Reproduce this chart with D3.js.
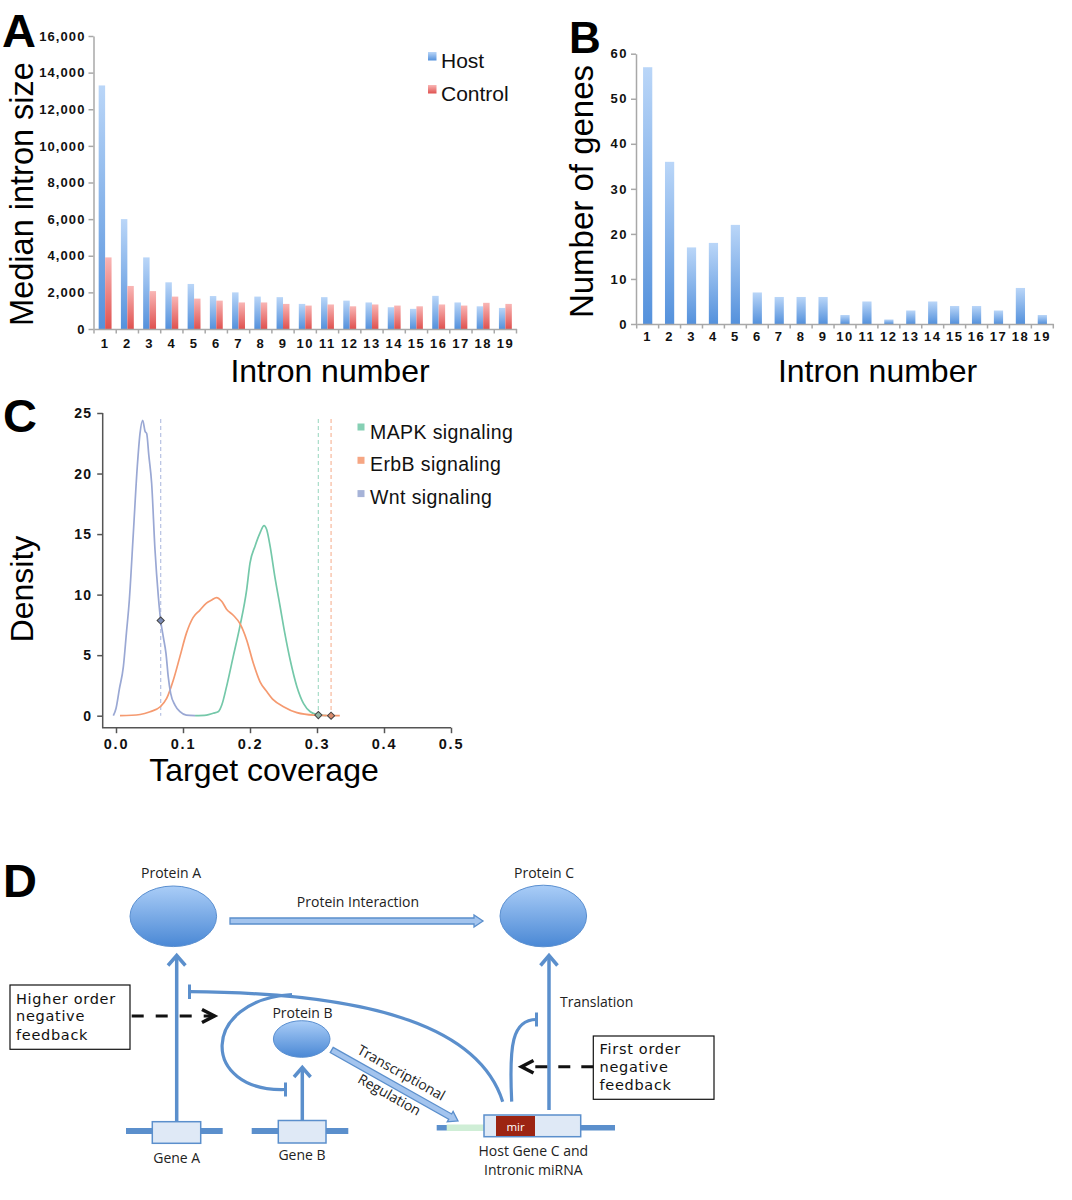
<!DOCTYPE html>
<html><head><meta charset="utf-8">
<script src="https://cdn.jsdelivr.net/npm/d3@7"></script>
<style>body{margin:0;background:#fff;} svg{display:block;}</style>
</head><body>
<svg id="fig" width="1072" height="1200"></svg>
<script>
// ================= DATA =================
// Panel A
const introns = [1,2,3,4,5,6,7,8,9,10,11,12,13,14,15,16,17,18,19];
const hostMedianSize    = [13300,6000,3910,2550,2460,1800,2000,1770,1740,1370,1740,1550,1450,1190,1100,1810,1450,1240,1150];
const controlMedianSize = [3910,2350,2070,1770,1660,1550,1450,1450,1370,1280,1340,1240,1340,1280,1240,1340,1280,1430,1370];
const yTicksA = [0,2000,4000,6000,8000,10000,12000,14000,16000];
const seriesA = ["Host","Control"];
// Panel B
const geneCounts = [57,36,17,18,22,7,6,6,6,2,5,1,3,5,4,4,3,8,2];
const yTicksB = [0,10,20,30,40,50,60];
// Panel C (density curves: [coverage, density])
const pathways = ["MAPK signaling","ErbB signaling","Wnt signaling"];
const mapkDensity = [[0.118,0],[0.135,0.05],[0.145,0.2],[0.153,0.35],[0.158,0.9],[0.165,2.4],[0.175,4.9],[0.185,7.4],[0.195,10.4],[0.2,12.6],[0.2075,14],[0.215,15.1],[0.221,15.7],[0.225,15.35],[0.23,14],[0.237,11.5],[0.245,9],[0.252,6.8],[0.26,4.6],[0.27,2.4],[0.28,1.0],[0.29,0.33],[0.302,0.08],[0.314,0]];
const erbbDensity = [[0.006,0],[0.036,0.1],[0.051,0.33],[0.066,0.74],[0.0756,1.43],[0.0856,2.95],[0.0955,4.9],[0.105,6.8],[0.115,8.1],[0.125,8.7],[0.135,9.3],[0.143,9.56],[0.15,9.76],[0.158,9.43],[0.165,8.8],[0.175,8.3],[0.185,7.6],[0.195,6.26],[0.205,4.33],[0.215,2.8],[0.225,2.0],[0.235,1.3],[0.25,0.74],[0.27,0.25],[0.295,0.05],[0.334,0]];
const wntDensity = [[-0.004,0],[0.0,0.6],[0.005,2.2],[0.011,4.05],[0.0155,6.8],[0.0199,9.56],[0.0259,15.1],[0.0318,20.6],[0.0358,23.3],[0.0398,24.4],[0.0433,23.5],[0.0458,23.3],[0.049,21.5],[0.0532,19.2],[0.0582,13.7],[0.0632,9.84],[0.0667,7.86],[0.0706,6.5],[0.0746,5.15],[0.078,3.2],[0.0816,1.85],[0.088,0.88],[0.0955,0.33],[0.105,0.05],[0.118,0]];
const observedCoverage = [0.302, 0.321, 0.0667];
const observedDensity  = [0.05, 0, 7.86];
const xTicksC = [0,0.1,0.2,0.3,0.4,0.5];
const yTicksC = [0,5,10,15,20,25];

// ================= SETUP =================
const svg = d3.select("#fig");
const FONT = "'Liberation Sans', Arial, Helvetica, sans-serif";
const DFONT = "'Open Sans', 'Noto Sans', sans-serif";
const BFONT = "'DejaVu Sans', Verdana, sans-serif";
const defs = svg.append("defs");
function vgrad(id, top, bottom){
  const g = defs.append("linearGradient").attr("id",id).attr("x1",0).attr("y1",0).attr("x2",0).attr("y2",1);
  g.append("stop").attr("offset","0%").attr("stop-color",top);
  g.append("stop").attr("offset","100%").attr("stop-color",bottom);
}
vgrad("gHost","#bad6f8","#5491dc");
vgrad("gCtrl","#f9b6b5","#df514f");
vgrad("gGenes","#bad6f8","#5491dc");
vgrad("gProt","#aacdf7","#4a88d5");

function styleAxis(g, size, color, ls){
  g.select(".domain").attr("stroke", color).attr("stroke-width",1.5);
  g.selectAll(".tick line").attr("stroke",color).attr("stroke-width",1.5);
  g.selectAll(".tick text").attr("font-family",FONT).attr("font-weight","bold")
    .attr("font-size",size).attr("letter-spacing",ls).attr("fill","#111");
}
function label(g, txt, x, y, size, opts={}){
  const t = g.append("text").attr("x",x).attr("y",y).text(txt)
    .attr("font-family",opts.font||FONT).attr("font-size",size).attr("fill",opts.fill||"#000")
    .attr("text-anchor",opts.anchor||"start");
  if(opts.weight) t.attr("font-weight",opts.weight);
  if(opts.ls) t.attr("letter-spacing",opts.ls);
  if(opts.rotate!==undefined) t.attr("transform",`rotate(${opts.rotate},${x},${y})`);
  return t;
}

// ================= PANEL A =================
const A = svg.append("g");
const xA = d3.scaleBand().domain(introns).range([94,516.5]);
const yA = d3.scaleLinear().domain([0,16000]).range([329,36]);
const bwA = xA.bandwidth();
A.append("g").selectAll("rect").data(introns).join("rect")
  .attr("x",d=>xA(d)+bwA*0.21).attr("width",bwA*0.29)
  .attr("y",(d,i)=>yA(hostMedianSize[i])).attr("height",(d,i)=>yA(0)-yA(hostMedianSize[i]))
  .attr("fill","url(#gHost)");
A.append("g").selectAll("rect").data(introns).join("rect")
  .attr("x",d=>xA(d)+bwA*0.5).attr("width",bwA*0.29)
  .attr("y",(d,i)=>yA(controlMedianSize[i])).attr("height",(d,i)=>yA(0)-yA(controlMedianSize[i]))
  .attr("fill","url(#gCtrl)");
A.append("g").attr("transform","translate(93.5,0)")
  .call(d3.axisLeft(yA).tickValues(yTicksA).tickFormat(d3.format(",")).tickSize(5).tickSizeOuter(0).tickPadding(3))
  .call(g=>styleAxis(g,13,"#a8a8a8","1.1px"));
A.append("g").attr("transform",`translate(0,${yA(0)})`)
  .call(d3.axisBottom(xA).tickSize(0).tickSizeOuter(0).tickPadding(10))
  .call(g=>styleAxis(g,13,"#a8a8a8","1.5px"));
A.append("g").selectAll("line").data([...introns.map(d=>xA(d)), xA.range()[1]]).join("line")
  .attr("x1",d=>d).attr("x2",d=>d).attr("y1",yA(0)).attr("y2",yA(0)+4.5)
  .attr("stroke","#a8a8a8").attr("stroke-width",1.5);
label(A,"Median intron size",33,194,32.5,{anchor:"middle",rotate:-90});
label(A,"Intron number",330,381.5,32,{anchor:"middle"});
label(A,"A",2,47,47,{weight:"bold"});
// legend A
const legA = A.append("g");
legA.selectAll("rect").data(seriesA).join("rect")
  .attr("x",428).attr("y",(d,i)=>52+i*33).attr("width",8.5).attr("height",8.5)
  .attr("fill",(d,i)=>i===0?"url(#gHost)":"url(#gCtrl)");
legA.selectAll("text").data(seriesA).join("text")
  .attr("x",441).attr("y",(d,i)=>68+i*32.5).text(d=>d)
  .attr("font-family",FONT).attr("font-size",21).attr("fill","#111");

// ================= PANEL B =================
const B = svg.append("g");
const xB = d3.scaleBand().domain(introns).range([636.7,1053.3]);
const yB = d3.scaleLinear().domain([0,60]).range([324,53.7]);
const bwB = xB.bandwidth();
B.append("g").selectAll("rect").data(introns).join("rect")
  .attr("x",d=>xB(d)+bwB*0.29).attr("width",bwB*0.42)
  .attr("y",(d,i)=>yB(geneCounts[i])).attr("height",(d,i)=>yB(0)-yB(geneCounts[i]))
  .attr("fill","url(#gGenes)");
B.append("g").attr("transform","translate(636,0)")
  .call(d3.axisLeft(yB).tickValues(yTicksB).tickSize(5).tickSizeOuter(0).tickPadding(3))
  .call(g=>styleAxis(g,13,"#a8a8a8","1.5px"));
B.append("g").attr("transform",`translate(0,${yB(0)})`)
  .call(d3.axisBottom(xB).tickSize(0).tickSizeOuter(0).tickPadding(8))
  .call(g=>styleAxis(g,13,"#a8a8a8","1.5px"));
B.append("g").selectAll("line").data([...introns.map(d=>xB(d)), xB.range()[1]]).join("line")
  .attr("x1",d=>d).attr("x2",d=>d).attr("y1",yB(0)).attr("y2",yB(0)+4.5)
  .attr("stroke","#a8a8a8").attr("stroke-width",1.5);
label(B,"Number of genes",593,191.5,33,{anchor:"middle",rotate:-90});
label(B,"Intron number",877.5,381.5,32,{anchor:"middle"});
label(B,"B",569,53,44,{weight:"bold"});

// ================= PANEL C =================
const C = svg.append("g");
const xC = d3.scaleLinear().domain([0,0.5]).range([116,451]);
const yC = d3.scaleLinear().domain([0,25]).range([715.7,413]);
const lineColors = ["#74c8a9","#f59a70","#9aa8d4"];
const dashColors = ["#a8dcc8","#f7b89c","#b6c1e2"];
const legendColors = ["#86d0b4","#f6a683","#a6b3d8"];
const diamondFill = ["#93b5a4","#d98b6c","#7c8cb6"];
const densities = [mapkDensity, erbbDensity, wntDensity];
const axisBase = yC(0)+12;
C.append("path").attr("d",`M${xC(0)-13.3},${yC(25)}V${axisBase}H${xC(0.5)}`)
  .attr("fill","none").attr("stroke","#555").attr("stroke-width",1.5);
C.append("g").attr("transform",`translate(${xC(0)-13.3},0)`)
  .call(d3.axisLeft(yC).tickValues(yTicksC).tickSize(5.5).tickPadding(5))
  .call(g=>{styleAxis(g,14,"#555","1.2px"); g.select(".domain").remove();});
C.append("g").attr("transform",`translate(0,${axisBase})`)
  .call(d3.axisBottom(xC).tickValues(xTicksC).tickFormat(d3.format(".1f")).tickSize(5.5).tickPadding(6))
  .call(g=>{styleAxis(g,14.5,"#555","1.8px"); g.select(".domain").remove();});
C.append("g").selectAll("line").data(observedCoverage).join("line")
  .attr("x1",d=>xC(d)).attr("x2",d=>xC(d)).attr("y1",yC(24.5)).attr("y2",yC(0))
  .attr("stroke",(d,i)=>dashColors[i]).attr("stroke-width",1.2).attr("stroke-dasharray","4,3");
const dline = d3.line().x(d=>xC(d[0])).y(d=>yC(d[1])).curve(d3.curveMonotoneX);
C.append("g").selectAll("path").data(densities).join("path")
  .attr("d",dline).attr("fill","none").attr("stroke",(d,i)=>lineColors[i]).attr("stroke-width",1.7);
C.append("g").selectAll("path").data(observedCoverage).join("path")
  .attr("d",d3.symbol(d3.symbolSquare,26))
  .attr("transform",(d,i)=>`translate(${xC(d)},${yC(observedDensity[i])}) rotate(45)`)
  .attr("fill",(d,i)=>diamondFill[i]).attr("stroke","#444").attr("stroke-width",1);
const legC = C.append("g");
legC.selectAll("rect").data(pathways).join("rect")
  .attr("x",357.5).attr("y",(d,i)=>423.5+i*33.3).attr("width",7).attr("height",7)
  .attr("fill",(d,i)=>legendColors[i]);
legC.selectAll("text").data(pathways).join("text")
  .attr("x",370).attr("y",(d,i)=>438.5+i*32.5).text(d=>d)
  .attr("font-family",FONT).attr("font-size",19.5).attr("letter-spacing","0.4px").attr("fill","#111");
label(C,"Density",33,589,32,{anchor:"middle",rotate:-90});
label(C,"Target coverage",264,781,32,{anchor:"middle"});
label(C,"C",3,432,47,{weight:"bold"});

// ================= PANEL D (diagram) =================
const D = svg.append("g");
const blue = "#5b8fcc";
const dText = "#222";
function dlabel(txt,x,y,opts={}){ return label(D,txt,x,y,opts.size||14,Object.assign({font:DFONT,fill:dText},opts)); }
function chevron(points, color, w){
  D.append("path").attr("d",d3.line()(points)).attr("fill","none").attr("stroke",color)
    .attr("stroke-width",w).attr("stroke-linejoin","miter").attr("stroke-linecap","butt");
}
function blockArrow(x1,y1,x2,y2){
  const len = Math.hypot(x2-x1,y2-y1), ang = Math.atan2(y2-y1,x2-x1)*180/Math.PI;
  const h=3, L=9, H=6;
  D.append("polygon")
    .attr("points",[[0,-h],[len-L,-h],[len-L,-H],[len,0],[len-L,H],[len-L,h],[0,h]].map(p=>p.join(",")).join(" "))
    .attr("transform",`translate(${x1},${y1}) rotate(${ang})`)
    .attr("fill","#a3c4ee").attr("stroke",blue).attr("stroke-width",1.3);
}
function vline(x,y1,y2){ D.append("line").attr("x1",x).attr("x2",x).attr("y1",y1).attr("y2",y2).attr("stroke",blue).attr("stroke-width",3.5); }
function curve(d){ D.append("path").attr("d",d).attr("fill","none").attr("stroke",blue).attr("stroke-width",3.2); }

function gene(lineX1,lineX2,y,boxX,boxW,boxY,boxH){
  D.append("line").attr("x1",lineX1).attr("x2",lineX2).attr("y1",y).attr("y2",y).attr("stroke",blue).attr("stroke-width",6);
  D.append("rect").attr("x",boxX).attr("y",boxY).attr("width",boxW).attr("height",boxH)
    .attr("fill","#dfe9f6").attr("stroke",blue).attr("stroke-width",1.5);
}
gene(126,222.7,1131,152.3,48.4,1121.7,21.6);
gene(251.7,348.3,1131,278.3,47.7,1120.5,22.5);
D.append("line").attr("x1",436.7).attr("x2",615).attr("y1",1127.7).attr("y2",1127.7).attr("stroke",blue).attr("stroke-width",5.5);
D.append("rect").attr("x",446.7).attr("y",1124.5).attr("width",37.3).attr("height",6.5).attr("fill","#cfeed6");
D.append("rect").attr("x",484).attr("y",1115).attr("width",96.7).attr("height",21.7)
  .attr("fill","#dfe9f6").attr("stroke",blue).attr("stroke-width",1.5);
D.append("rect").attr("x",496).attr("y",1116).attr("width",39).attr("height",20).attr("fill","#9c2412");
dlabel("mir",515.5,1130.8,{anchor:"middle",fill:"#fff",size:11.5});

vline(176.7,1121.7,956);
chevron([[168,965.5],[176.7,955.5],[185.4,965.5]],blue,3.5);
vline(302.3,1120.5,1068);
chevron([[294,1077],[302.3,1067.5],[310.6,1077]],blue,3.5);
vline(549,1110,956);
chevron([[540.5,965.5],[549,955.5],[557.5,965.5]],blue,3.5);

curve("M502.7,1101.7 C480,1030 380,993 189.5,991.7");
D.append("line").attr("x1",189.5).attr("x2",189.5).attr("y1",984.5).attr("y2",999).attr("stroke",blue).attr("stroke-width",3);
curve("M292,994.5 C200,1000 200,1092 285,1089.5");
D.append("line").attr("x1",285.5).attr("x2",285.5).attr("y1",1082.5).attr("y2",1096.5).attr("stroke",blue).attr("stroke-width",3);
curve("M511.7,1101.7 C509,1045 512,1019.5 536.5,1019.5");
D.append("line").attr("x1",536.5).attr("x2",536.5).attr("y1",1012.5).attr("y2",1026.5).attr("stroke",blue).attr("stroke-width",3);

blockArrow(230,921,483,921);
blockArrow(331.7,1050,458,1121);

const proteins = [
  {name:"Protein A", cx:173.3, cy:916.3, rx:43.3, ry:30.3, lx:171, ly:878.3},
  {name:"Protein C", cx:543.3, cy:916, rx:43.3, ry:30.8, lx:544, ly:878.3},
  {name:"Protein B", cx:301.7, cy:1039, rx:28.3, ry:18.3, lx:302.5, ly:1018.3}
];
D.selectAll("ellipse").data(proteins).join("ellipse")
  .attr("cx",d=>d.cx).attr("cy",d=>d.cy).attr("rx",d=>d.rx).attr("ry",d=>d.ry)
  .attr("fill","url(#gProt)").attr("stroke","#5a8fd0").attr("stroke-width",1);
proteins.forEach(p=>dlabel(p.name,p.lx,p.ly,{anchor:"middle"}));

dlabel("Protein Interaction",358,906.5,{anchor:"middle"});
dlabel("Translation",560,1006.7);
dlabel("Gene A",176.7,1163.3,{anchor:"middle"});
dlabel("Gene B",302,1160,{anchor:"middle"});
dlabel("Host Gene C and",533.3,1156,{anchor:"middle"});
dlabel("Intronic miRNA",533.3,1175,{anchor:"middle"});
const angTR = Math.atan2(71,126.3)*180/Math.PI;
dlabel("Transcriptional",399,1077,{anchor:"middle",rotate:angTR});
dlabel("Regulation",387,1099,{anchor:"middle",rotate:angTR});

function fbBox(x,y,w,h,lines,tx,baselines){
  D.append("rect").attr("x",x).attr("y",y).attr("width",w).attr("height",h)
    .attr("fill","#fff").attr("stroke","#111").attr("stroke-width",1.2);
  lines.forEach((t,i)=>label(D,t,tx,baselines[i],14.5,{font:BFONT,fill:"#111",ls:"0.7px"}));
}
fbBox(10,985,120,64.3,["Higher order","negative","feedback"],16,[1004.3,1021,1039.5]);
fbBox(593.3,1036,120.7,63.3,["First order","negative","feedback"],599.5,[1054,1071.7,1090]);
D.append("line").attr("x1",131.7).attr("x2",213).attr("y1",1016).attr("y2",1016)
  .attr("stroke","#111").attr("stroke-width",3).attr("stroke-dasharray","12,12");
chevron([[202,1009.5],[214.5,1016],[202,1022.5]],"#111",3.5);
D.append("line").attr("x1",593.3).attr("x2",523).attr("y1",1066.7).attr("y2",1066.7)
  .attr("stroke","#111").attr("stroke-width",3).attr("stroke-dasharray","12,11");
chevron([[533.5,1060.5],[521.5,1066.7],[533.5,1073]],"#111",3.5);
label(D,"D",3,897,47,{weight:"bold"});
</script>
</body></html>
